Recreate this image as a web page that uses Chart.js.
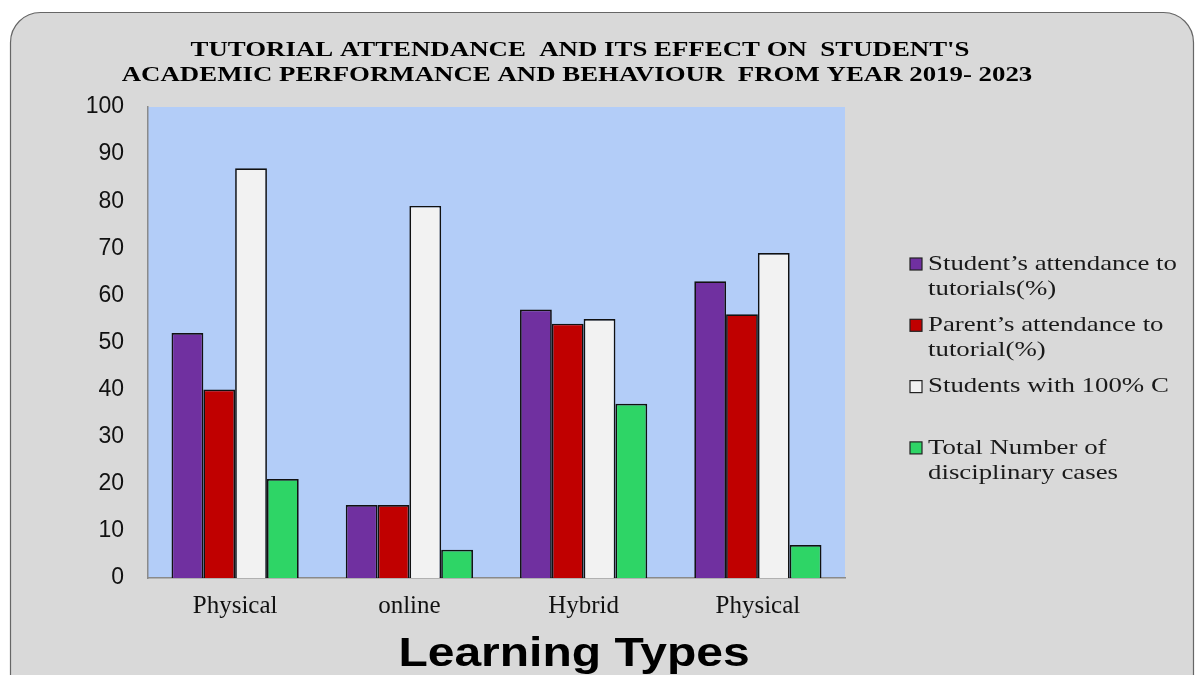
<!DOCTYPE html>
<html>
<head>
<meta charset="utf-8">
<script src="https://cdn.jsdelivr.net/npm/chart.js@4.4.1/dist/chart.umd.min.js"></script>
<style>
html,body{margin:0;padding:0;background:#fff;}
#wrap{position:relative;width:1197px;height:675px;}
</style>
</head>
<body>
<div id="wrap"><canvas id="c" width="1197" height="675"></canvas></div>
<script>
const categories = ['Physical', 'online', 'Hybrid', 'Physical'];
const studentAttendance = [52, 15.5, 57, 63];
const parentAttendance = [40, 15.5, 54, 56];
const studentsWith100C = [87, 79, 55, 69];
const disciplinaryCases = [21, 6, 37, 7];
const seriesLabels = [
  ['Student\u2019s attendance to', 'tutorials(%)'],
  ['Parent\u2019s attendance to', 'tutorial(%)'],
  ['Students with 100% C'],
  ['Total Number of', 'disciplinary cases']
];
const titleLines = [
  "TUTORIAL ATTENDANCE  AND ITS EFFECT ON  STUDENT'S",
  "ACADEMIC PERFORMANCE AND BEHAVIOUR  FROM YEAR 2019- 2023"
];
const xAxisTitle = 'Learning Types';
const yMin = 0, yMax = 100, yStep = 10;

const colors = ['#7030a0', '#c00000', '#f2f2f2', '#2ed566'];
const seriesValues = [studentAttendance, parentAttendance, studentsWith100C, disciplinaryCases];

function stretchedText(ctx, text, x, y, sx, align) {
  ctx.save();
  ctx.translate(x, y);
  ctx.scale(sx, 1);
  ctx.textAlign = align;
  ctx.fillText(text, 0, 0);
  ctx.restore();
}

const decor = {
  id: 'decor',
  beforeDraw(chart) {
    const ctx = chart.ctx;
    const a = chart.chartArea;
    ctx.save();
    ctx.fillStyle = '#ffffff';
    ctx.fillRect(0, 0, chart.width, chart.height);
    ctx.beginPath();
    ctx.roundRect(10.5, 12.5, 1183, 720, 30);
    ctx.fillStyle = '#d9d9d9';
    ctx.fill();
    ctx.strokeStyle = '#666666';
    ctx.lineWidth = 1.2;
    ctx.stroke();
    ctx.fillStyle = '#b3cdf8';
    ctx.fillRect(a.left, a.top, a.right - a.left, a.bottom - a.top);
    ctx.restore();
  },
  afterDraw(chart) {
    const ctx = chart.ctx;
    ctx.save();
    ctx.fillStyle = '#000';
    ctx.textBaseline = 'middle';
    // title
    ctx.font = 'bold 22px "Liberation Serif", "Times New Roman", serif';
    stretchedText(ctx, titleLines[0], 580, 50, 1.22, 'center');
    stretchedText(ctx, titleLines[1], 577, 75, 1.22, 'center');
    // axis title
    ctx.font = 'bold 40px "Liberation Sans", Arial, sans-serif';
    stretchedText(ctx, xAxisTitle, 574, 655, 1.2, 'center');
    // legend
    ctx.font = '22px "Liberation Serif", "Times New Roman", serif';
    chart.data.datasets.forEach((ds, i) => {
      const y0 = 264 + i * 61.3;
      ctx.fillStyle = ds.backgroundColor;
      ctx.fillRect(910, y0 - 6, 12, 12);
      ctx.strokeStyle = '#222';
      ctx.lineWidth = 1.2;
      ctx.strokeRect(910, y0 - 6, 12, 12);
      ctx.fillStyle = '#1a1a1a';
      const lines = Array.isArray(ds.label) ? ds.label : [ds.label];
      lines.forEach((t, j) => stretchedText(ctx, t, 928, y0 + j * 25, 1.22, 'left'));
    });
    ctx.restore();
  }
};

new Chart(document.getElementById('c'), {
  type: 'bar',
  data: {
    labels: categories,
    datasets: seriesValues.map((vals, i) => ({
      label: seriesLabels[i],
      data: vals,
      backgroundColor: colors[i],
      borderColor: '#111111',
      borderWidth: 1.7,
      borderSkipped: 'bottom',
      categoryPercentage: 0.73,
      barPercentage: 1.0
    }))
  },
  options: {
    responsive: false,
    animation: false,
    devicePixelRatio: 1,
    layout: { padding: { top: 107, right: 352, left: 0, bottom: 0 } },
    plugins: { legend: { display: false }, title: { display: false }, tooltip: { enabled: false } },
    scales: {
      y: {
        min: yMin, max: yMax,
        afterFit(s) { s.width = 148; },
        ticks: {
          stepSize: yStep,
          color: '#111',
          padding: 24,
          font: { family: '"Liberation Sans", Arial, sans-serif', size: 23 }
        },
        grid: { display: false, drawTicks: false },
        border: { display: true, color: '#8a8a8a', width: 1.5 }
      },
      x: {
        afterFit(s) { s.height = 97; },
        ticks: {
          color: '#111',
          padding: 13,
          font: { family: '"Liberation Serif", "Times New Roman", serif', size: 25 }
        },
        grid: { display: false, drawTicks: false },
        border: { display: true, color: '#8a8a8a', width: 1.5 }
      }
    }
  },
  plugins: [decor]
});
</script>
</body>
</html>
